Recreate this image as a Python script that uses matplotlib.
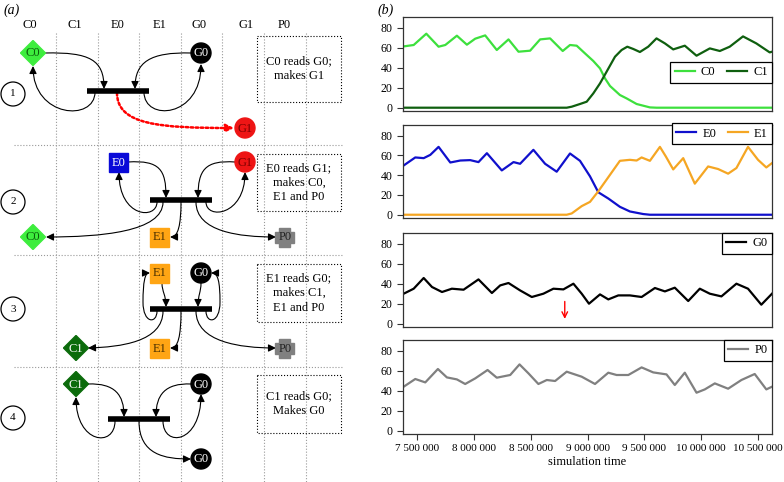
import numpy as np
import matplotlib
matplotlib.use("Agg")
import matplotlib.pyplot as plt
from matplotlib.path import Path
from matplotlib.patches import FancyArrowPatch, Rectangle, Circle, RegularPolygon, Polygon
from matplotlib.ticker import FuncFormatter

plt.rcParams['font.family'] = 'serif'
plt.rcParams['font.serif'] = ['Liberation Serif', 'DejaVu Serif']

# ---- panel (b) data, times in thousands of steps ----
t_c0 = [7383, 7471, 7582, 7690, 7749, 7851, 7939, 8012, 8100, 8202, 8305, 8393, 8495, 8583,
        8671, 8782, 8846, 8905, 8978, 9051, 9110, 9154, 9198, 9285, 9344, 9432, 9549, 9607, 10623]
c0 = [61.3, 62.7, 74, 61, 62.7, 72, 63, 69, 72.3, 57.7, 68.3, 56, 57, 68.3,
      69.3, 56.7, 62.7, 62, 54.3, 46.7, 39.3, 29.3, 21.7, 12.7, 9.3, 3.7, 0.3, 0, 0]

t_c1 = [7383, 8817, 8861, 8934, 8993, 9051, 9110, 9168, 9242, 9300, 9350, 9403, 9461, 9534,
        9607, 9681, 9754, 9856, 9959, 10076, 10164, 10251, 10368, 10485, 10603, 10623]
c1 = [0, 0, 1, 3.7, 6, 14.3, 24.3, 36, 51, 57.7, 61, 58.7, 55.7, 61,
      69.3, 64.3, 58.3, 62, 52, 59.3, 56.7, 61, 71.3, 64.3, 55.3, 56]

t_e0 = [7383, 7485, 7559, 7617, 7690, 7793, 7881, 7968, 8041, 8115, 8246, 8349, 8407, 8524,
        8627, 8729, 8846, 8934, 9022, 9095, 9183, 9285, 9373, 9490, 9549, 10623]
e0 = [49.8, 57.9, 57.2, 60.5, 68.6, 52.8, 54.8, 55.2, 53.2, 62.2, 44.8, 53.2, 51.5, 65.6,
      51.5, 43.5, 61.9, 54.5, 38.8, 22.7, 16.4, 8, 3.3, 0.7, 0, 0]

t_e1 = [7383, 8817, 8861, 8949, 9022, 9095, 9168, 9285, 9373, 9432, 9476, 9549, 9637, 9689,
        9754, 9842, 9944, 10061, 10149, 10237, 10310, 10412, 10500, 10573, 10623]
e1 = [0, 0, 1.3, 8.7, 13, 23.7, 35.5, 54.5, 55.5, 54.8, 57.9, 54.5, 68.6, 58.9,
      45.8, 57.2, 31.4, 48.8, 46.2, 41.5, 47.2, 68.6, 55.5, 47.8, 52.2]

t_g0 = [7383, 7471, 7559, 7632, 7720, 7807, 7910, 8041, 8159, 8232, 8305, 8407, 8510, 8612,
        8700, 8788, 8876, 8949, 9013, 9110, 9183, 9271, 9373, 9476, 9593, 9681, 9768, 9886,
        9988, 10076, 10178, 10310, 10412, 10529, 10623]
g0 = [30, 35, 45.7, 36.7, 31.7, 35, 34, 44.3, 30.7, 38.3, 40.7, 33.3, 26.7, 30,
      35, 34.3, 40, 30, 20, 29.3, 24.3, 28.3, 28.3, 26.7, 35.7, 32.3, 36, 22.7,
      35, 30, 27.3, 40, 35, 19, 30]

t_p0 = [7383, 7485, 7573, 7684, 7763, 7851, 7924, 8012, 8121, 8202, 8276, 8320, 8402, 8481,
        8568, 8642, 8715, 8817, 8949, 9066, 9183, 9256, 9359, 9476, 9578, 9695, 9768, 9856,
        9959, 10032, 10120, 10237, 10354, 10471, 10573, 10623]
p0 = [44, 51.7, 48.3, 61.7, 53.3, 51.3, 46.7, 52.3, 60.7, 53, 54.7, 55.7, 66.3, 57.3,
      46.7, 50.7, 49.7, 59, 54, 46.7, 58, 55.7, 55.7, 63.3, 58.3, 56.3, 45.7, 58,
      38, 41.3, 47.3, 42, 50.7, 56.7, 41.3, 44]

marker_time = 8800  # red arrow in G0 panel
x_ticks = [7500, 8000, 8500, 9000, 9500, 10000, 10500]

# ---- panel (a) text ----
columns = ['C0', 'C1', 'E0', 'E1', 'G0', 'G1', 'P0']
steps = ['1', '2', '3', '4']
step_text = ["C0 reads G0;\nmakes G1",
             "E0 reads G1;\nmakes C0,\nE1 and P0",
             "E1 reads G0;\nmakes C1,\nE1 and P0",
             "C1 reads G0;\nMakes G0"]

fig = plt.figure(figsize=(7.84, 4.82), dpi=100)

# diagram drawn in pixel coordinates
dg = fig.add_axes([0, 0, 1, 1])
dg.set_xlim(0, 784)
dg.set_ylim(482, 0)
dg.axis('off')
dg.patch.set_alpha(0)

col_x = [30, 75, 118, 160, 199, 246, 284]
for name, x in zip(columns, col_x):
    dg.text(x, 25, name, ha='center', va='center', fontsize=9)
for x in [56, 98, 139, 181, 222, 264, 306]:
    dg.plot([x, x], [33, 482], color='#999999', lw=0.8, ls=':')
for y in [145, 255, 367]:
    dg.plot([14, 342], [y, y], color='#999999', lw=0.8, ls=':')

dg.text(4, 10, '(a)', fontsize=10, style='italic', va='center')
dg.text(378, 10, '(b)', fontsize=10, style='italic', va='center')

node_style = {'C0': ('diamond', '#3ded3d', '#0b5d0b'),
              'C1': ('diamond', '#0b6b0b', 'white'),
              'E0': ('square', '#0a0ad8', 'white'),
              'E1': ('square', '#ffa514', '#4a3000'),
              'G0': ('circle', 'black', 'white'),
              'G1': ('circle', '#ee1515', '#7a0000'),
              'P0': ('cross', '#808080', '#222222')}


def node(name, x, y):
    shape, fc, tc = node_style[name]
    if shape == 'diamond':
        p = RegularPolygon((x, y), 4, radius=12.5, orientation=0, fc=fc, ec=fc)
    elif shape == 'square':
        p = Rectangle((x - 9.5, y - 9.5), 19, 19, fc=fc, ec=fc)
    elif shape == 'circle':
        p = Circle((x, y), 10, fc=fc, ec=fc)
    else:
        a, b = 9.5, 5.5
        pts = [(-b, -a), (b, -a), (b, -b), (a, -b), (a, b), (b, b), (b, a), (-b, a),
               (-b, b), (-a, b), (-a, -b), (-b, -b)]
        p = Polygon([(x + u, y + v) for u, v in pts], fc=fc, ec=fc)
    p.set_zorder(3)
    dg.add_patch(p)
    dg.text(x, y + 0.5, name, ha='center', va='center', fontsize=9, color=tc, zorder=4)


def curve(pts, color='black', ls='-', lw=0.8):
    codes = [Path.MOVETO] + [Path.CURVE4] * (len(pts) - 1)
    a = FancyArrowPatch(path=Path(pts, codes), arrowstyle='-|>,head_length=0.45,head_width=0.22',
                        mutation_scale=10, color=color, lw=lw, linestyle=ls, zorder=2)
    dg.add_patch(a)


def bar(x0, x1, y):
    dg.plot([x0, x1], [y, y], color='black', lw=4, solid_capstyle='butt', zorder=3)


# step circles and description boxes
for s, y, (by0, by1), txt in zip(steps, [94, 202, 309, 418],
                                 [(36, 102), (154, 211), (264, 322), (375, 433)], step_text):
    dg.add_patch(Circle((13, y), 12, fc='white', ec='black', lw=0.9))
    dg.text(13, y, s, ha='center', va='center', fontsize=8)
    dg.add_patch(Rectangle((257, by0), 84, by1 - by0, fill=False, ec='black', lw=0.8, ls=':'))
    dg.text(299, (by0 + by1) / 2, txt, ha='center', va='center', fontsize=9, linespacing=1.3)

# step 1
bar(87, 149, 91)
node('C0', 33, 53); node('G0', 201, 53); node('G1', 245, 128)
curve([(45, 53), (90, 52), (104, 60), (104, 89)])
curve([(95, 92), (95, 122), (33, 118), (33, 66)])
curve([(191, 53), (150, 52), (135, 62), (135, 89)])
curve([(144, 92), (144, 122), (201, 118), (201, 64)])
curve([(117, 93), (117, 125), (160, 128), (234, 128)], color='red', ls=(0, (1, 1)), lw=1.8)

# step 2
bar(150, 212, 200)
node('E0', 119, 162); node('G1', 245, 162)
node('C0', 33, 237); node('E1', 160, 237); node('P0', 285, 237)
curve([(128, 162), (160, 160), (166, 170), (166, 198)])
curve([(157, 202), (157, 220), (119, 218), (119, 172)])
curve([(235, 162), (205, 160), (198, 170), (198, 198)])
curve([(206, 202), (206, 220), (245, 216), (245, 172)])
curve([(163, 202), (163, 232), (100, 237), (46, 237)])
curve([(181, 202), (181, 225), (178, 237), (170, 237)])
curve([(196, 202), (196, 232), (240, 237), (276, 237)])

# step 3
bar(150, 212, 309)
node('E1', 160, 273); node('G0', 201, 273)
node('C1', 76, 348); node('E1', 160, 348); node('P0', 285, 348)
curve([(162, 283), (162, 292), (166, 295), (166, 307)])
curve([(157, 311), (157, 324), (143, 324), (143, 302), (143, 282), (145, 273), (150, 273)])
curve([(201, 283), (201, 292), (198, 295), (198, 307)])
curve([(206, 311), (206, 324), (220, 324), (220, 302), (220, 282), (218, 273), (211, 273)])
curve([(163, 311), (163, 342), (120, 347), (88, 348)])
curve([(181, 311), (181, 336), (178, 348), (170, 348)])
curve([(196, 311), (196, 342), (240, 348), (276, 348)])

# step 4
bar(108, 170, 419)
node('C1', 76, 384); node('G0', 201, 384); node('G0', 201, 459)
curve([(88, 384), (115, 383), (124, 395), (124, 417)])
curve([(115, 421), (115, 448), (76, 444), (76, 397)])
curve([(191, 384), (165, 383), (156, 395), (156, 417)])
curve([(163, 421), (163, 448), (201, 444), (201, 394)])
curve([(139, 421), (139, 455), (165, 459), (191, 459)])

# ---- panel (b) ----
W, H = 784, 482
boxes = [(17, 111), (125, 218), (233, 327), (340, 434)]
axes = []
for top, bot in boxes:
    ax = fig.add_axes([403 / W, 1 - bot / H, 369 / W, (bot - top) / H])
    axes.append(ax)

series = [[(t_c0, c0, 'C0', '#3de03d'), (t_c1, c1, 'C1', '#0f5f0f')],
          [(t_e0, e0, 'E0', '#1010cc'), (t_e1, e1, 'E1', '#f5a623')],
          [(t_g0, g0, 'G0', 'black')],
          [(t_p0, p0, 'P0', '#808080')]]

for i, (ax, group) in enumerate(zip(axes, series)):
    for t, v, lab, col in group:
        ax.plot(np.array(t) * 1000, v, color=col, lw=1.6, label=lab)
    ax.set_xlim(7377000, 10623000)
    ax.set_ylim(-3.3, 90.7)
    ax.set_yticks([0, 20, 40, 60, 80])
    ax.tick_params(axis='both', direction='out', length=4, width=0.8, labelsize=8,
                   color='#333333')
    ax.tick_params(axis='y', labelsize=8.5)
    for sp in ax.spines.values():
        sp.set_color('#333333')
        sp.set_linewidth(0.9)
    if i < 3:
        ax.tick_params(axis='x', bottom=False, labelbottom=False)
    else:
        ax.set_xticks(np.array(x_ticks) * 1000)
        ax.xaxis.set_major_formatter(FuncFormatter(lambda v, p: f"{int(round(v)):,}".replace(",", " ")))
        ax.set_xlabel('simulation time', fontsize=9, labelpad=2)

leg_kw = dict(frameon=True, fancybox=False, framealpha=1, edgecolor='black', fontsize=9,
              handlelength=1.6, handletextpad=0.5, columnspacing=0.9, borderpad=0.35,
              borderaxespad=0)
axes[0].legend(loc='center right', bbox_to_anchor=(1, 0.41), ncol=2, **leg_kw)
axes[1].legend(loc='upper right', bbox_to_anchor=(1, 1.02), ncol=2, **leg_kw)
axes[2].legend(loc='upper right', bbox_to_anchor=(1, 1), **leg_kw)
axes[3].legend(loc='upper right', bbox_to_anchor=(1, 1), **leg_kw)
for ax in axes:
    ax.get_legend().get_frame().set_linewidth(0.9)

axes[2].annotate('', xy=(marker_time * 1000, 2), xytext=(marker_time * 1000, 25),
                 arrowprops=dict(arrowstyle='->', color='red', lw=1))

fig.savefig('out.png', dpi=100)
